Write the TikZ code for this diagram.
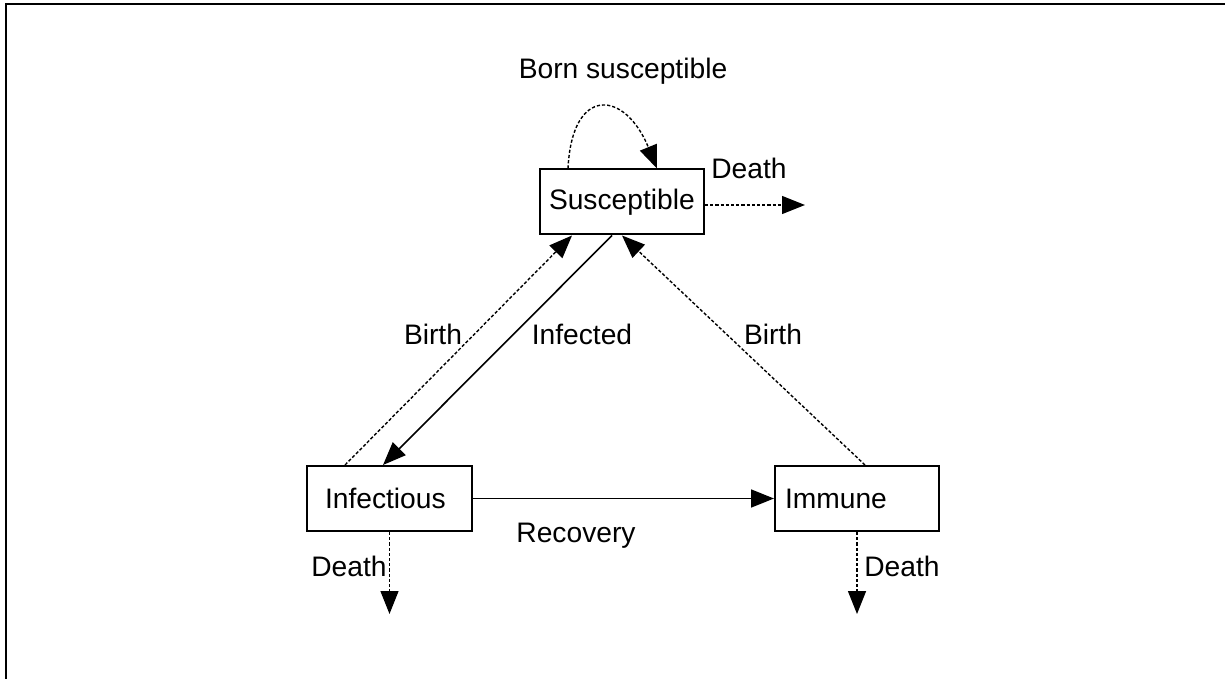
\documentclass[tikz,border=0pt]{standalone}
\usepackage{fontspec}
\setmainfont{Liberation Sans}
\usetikzlibrary{arrows.meta}
\begin{document}
\begin{tikzpicture}[x=0.5pt,y=-0.5pt,
  every node/.style={font=\fontsize{14.1}{17}\selectfont},
  box/.style={draw,line width=1pt,minimum height=32.5pt,align=left,inner ysep=0pt},
  lbl/.style={inner sep=0pt},
  tip/.style={-{Triangle[length=11.5pt,width=9pt]}},
  solidarrow/.style={tip,line width=0.8pt},
  dotarrow/.style={tip,line width=0.7pt,dash pattern=on 1.6pt off 1pt}]
\useasboundingbox (0,0) rectangle (1225,679);
\draw[line width=1pt] (6,679) -- (6,4) -- (1225,4);
% boxes
\node[box,inner xsep=4.5pt,text width=73pt] (sus) at (622,202) {\raisebox{-1pt}{Susceptible}};
\node[box,inner xsep=9pt,text width=64.5pt] (inf) at (389.5,498.5) {\raisebox{-1pt}{Infectious}};
\node[box,inner xsep=5pt,text width=72pt] (imm) at (857,498.5) {\raisebox{-1pt}{Immune}};
% free ends
\coordinate (dS) at (805,205);
\coordinate (dI) at (389.5,614);
\coordinate (dM) at (857,614);
% connectors
\draw[dotarrow] ([xshift=14.5pt]sus.north west) .. controls (572,85) and (625,90) .. ([xshift=59pt]sus.north west);
\draw[dotarrow] (sus.east |- dS) -- (dS);
\draw[dotarrow] ([xshift=19.5pt]inf.north west) -- ([xshift=16.5pt]sus.south west);
\draw[solidarrow] ([xshift=36.5pt]sus.south west) -- ([xshift=38.5pt]inf.north west);
\draw[dotarrow] ([xshift=45.5pt]imm.north west) -- (sus.south);
\draw[solidarrow] (inf.east) -- (imm.west);
\draw[dotarrow] (inf.south) -- (dI);
\draw[dotarrow] (imm.south) -- (dM);
% labels
\node[lbl] (lBorn) at (623,71) {Born susceptible};
\node[lbl] (lDS) at (749,168) {Death};
\node[lbl] (lB1) at (433,334) {Birth};
\node[lbl] (lInf) at (582,334) {Infected};
\node[lbl] (lB2) at (773,334) {Birth};
\node[lbl] (lRec) at (576,536) {Recovery};
\node[lbl] (lDI) at (349,566) {Death};
\node[lbl] (lDM) at (902,566) {Death};
\end{tikzpicture}
\end{document}
